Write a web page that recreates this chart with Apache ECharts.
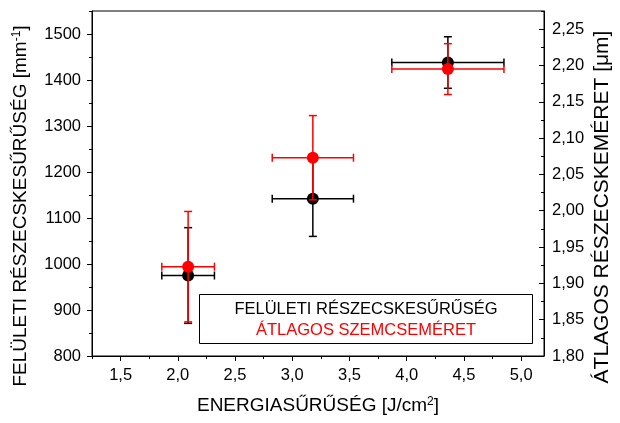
<!DOCTYPE html>
<html><head><meta charset="utf-8">
<script src="https://cdn.jsdelivr.net/npm/echarts@6/dist/echarts.min.js"></script>
<style>html,body{margin:0;padding:0;background:#fff}#c{width:620px;height:423px}</style>
</head><body><div id="c"></div>
<script>
// ---- data ----
const energy      = [2.09, 3.18, 4.36];      // J/cm^2
const energyErr   = [0.23, 0.355, 0.49];
const density     = [975, 1142, 1438];       // mm^-1 (left axis)
const densityErr  = [104, 82, 56];
const sizeUm      = [1.923, 2.073, 2.195];   // µm (right axis)
const sizeErr     = [0.076, 0.058, 0.035];

const xTicks      = [1.5, 2.0, 2.5, 3.0, 3.5, 4.0, 4.5, 5.0];
const xMinor      = [1.25, 1.75, 2.25, 2.75, 3.25, 3.75, 4.25, 4.75];
const yLeftTicks  = [800, 900, 1000, 1100, 1200, 1300, 1400, 1500];
const yLeftMinor  = [850, 950, 1050, 1150, 1250, 1350, 1450, 1550];
const yRightTicks = [1.80, 1.85, 1.90, 1.95, 2.00, 2.05, 2.10, 2.15, 2.20, 2.25];
const yRightMinor = [1.825, 1.875, 1.925, 1.975, 2.025, 2.075, 2.125, 2.175, 2.225, 2.275];

const FONT = 'Liberation Sans, Arial, sans-serif';
const BLACK = '#000000', RED = '#ff0000';

function errRender(color) {
  return function (params, api) {
    const x = api.value(0), y = api.value(1), ex = api.value(2), ey = api.value(3);
    const c = api.coord([x, y]);
    const l = api.coord([x - ex, y]), r = api.coord([x + ex, y]);
    const t = api.coord([x, y + ey]), b = api.coord([x, y - ey]);
    const cap = 4;
    const st = { stroke: color, lineWidth: 1.5 };
    return {
      type: 'group',
      children: [
        { type: 'line', shape: { x1: l[0], y1: c[1], x2: r[0], y2: c[1] }, style: st },
        { type: 'line', shape: { x1: l[0], y1: c[1] - cap, x2: l[0], y2: c[1] + cap }, style: st },
        { type: 'line', shape: { x1: r[0], y1: c[1] - cap, x2: r[0], y2: c[1] + cap }, style: st },
        { type: 'line', shape: { x1: c[0], y1: t[1], x2: c[0], y2: b[1] }, style: st },
        { type: 'line', shape: { x1: c[0] - cap, y1: t[1], x2: c[0] + cap, y2: t[1] }, style: st },
        { type: 'line', shape: { x1: c[0] - cap, y1: b[1], x2: c[0] + cap, y2: b[1] }, style: st },
        { type: 'circle', shape: { cx: c[0], cy: c[1], r: 6 }, style: { fill: color } }
      ]
    };
  };
}

const axisLineStyle = { show: true, lineStyle: { color: BLACK, width: 1 } };
const lbl = { color: BLACK, fontSize: 16.5, fontFamily: FONT };
const supRich = { sup: { fontSize: 12, fontFamily: FONT, color: BLACK, verticalAlign: 'top', padding: [0, 0, 8, 0] } };

const option = {
  backgroundColor: '#fff',
  animation: false,
  grid: { left: 92, right: 76, top: 11, bottom: 67, show: true, borderColor: BLACK, borderWidth: 1, backgroundColor: 'transparent' },
  xAxis: [
    {
      type: 'value', min: 1.25, max: 5.2, position: 'bottom',
      axisLine: axisLineStyle,
      axisTick: { show: true, inside: false, length: 5, customValues: xTicks, lineStyle: { color: BLACK } },
      axisLabel: Object.assign({ margin: 11, customValues: xTicks, formatter: v => v.toFixed(1).replace('.', ',') }, lbl),
      splitLine: { show: false },
      name: 'ENERGIASŰRŰSÉG [J/cm{sup|2}]', nameLocation: 'middle', nameGap: 40,
      nameTextStyle: { color: BLACK, fontSize: 19, fontFamily: FONT, rich: supRich }
    },
    {
      type: 'value', min: 1.25, max: 5.2, position: 'bottom',
      axisLine: { show: false },
      axisTick: { show: true, inside: false, length: 3, customValues: xMinor, lineStyle: { color: BLACK } },
      axisLabel: { show: false }, splitLine: { show: false }
    }
  ],
  yAxis: [
    {
      type: 'value', min: 800, max: 1550, position: 'left',
      axisLine: axisLineStyle,
      axisTick: { show: true, inside: false, length: 5, customValues: yLeftTicks, lineStyle: { color: BLACK } },
      axisLabel: Object.assign({ margin: 11, customValues: yLeftTicks, formatter: v => String(v) }, lbl),
      splitLine: { show: false }
    },
    {
      type: 'value', min: 1.8, max: 2.275, position: 'right',
      axisLine: axisLineStyle,
      axisTick: { show: true, inside: true, length: 5, customValues: yRightTicks, lineStyle: { color: BLACK } },
      axisLabel: Object.assign({ margin: 8, customValues: yRightTicks, formatter: v => v.toFixed(2).replace('.', ',') }, lbl),
      splitLine: { show: false }
    },
    {
      type: 'value', min: 800, max: 1550, position: 'left',
      axisLine: { show: false },
      axisTick: { show: true, inside: false, length: 3, customValues: yLeftMinor, lineStyle: { color: BLACK } },
      axisLabel: { show: false }, splitLine: { show: false }
    },
    {
      type: 'value', min: 1.8, max: 2.275, position: 'right',
      axisLine: { show: false },
      axisTick: { show: true, inside: true, length: 3, customValues: yRightMinor, lineStyle: { color: BLACK } },
      axisLabel: { show: false }, splitLine: { show: false }
    }
  ],
  series: [
    {
      name: 'FELÜLETI RÉSZECSKESŰRŰSÉG', type: 'custom', xAxisIndex: 0, yAxisIndex: 0,
      renderItem: errRender(BLACK), encode: { x: 0, y: 1 }, z: 3,
      data: energy.map((x, i) => [x, density[i], energyErr[i], densityErr[i]])
    },
    {
      name: 'ÁTLAGOS SZEMCSEMÉRET', type: 'custom', xAxisIndex: 0, yAxisIndex: 1,
      renderItem: errRender(RED), encode: { x: 0, y: 1 }, z: 4,
      data: energy.map((x, i) => [x, sizeUm[i], energyErr[i], sizeErr[i]])
    }
  ],
  graphic: [
    { type: 'rect', z: 10, shape: { x: 199.5, y: 294.5, width: 333, height: 49 }, style: { fill: '#fff', stroke: BLACK, lineWidth: 1 } },
    { type: 'text', z: 11, x: 366, y: 309, style: { text: 'FELÜLETI RÉSZECSKESŰRŰSÉG', fill: BLACK, font: '16.5px ' + FONT, textAlign: 'center', textVerticalAlign: 'middle' } },
    { type: 'text', z: 11, x: 366, y: 330, style: { text: 'ÁTLAGOS SZEMCSEMÉRET', fill: RED, font: '16.5px ' + FONT, textAlign: 'center', textVerticalAlign: 'middle' } },
    { type: 'text', z: 11, x: 21, y: 206, rotation: Math.PI / 2,
      style: { text: 'FELÜLETI RÉSZECSKESŰRŰSÉG [mm{sup|-1}]', fill: BLACK, fontSize: 19, fontFamily: FONT, rich: supRich, align: 'center', verticalAlign: 'middle' } },
    { type: 'text', z: 11, x: 602, y: 207, rotation: Math.PI / 2,
      style: { text: 'ÁTLAGOS RÉSZECSKEMÉRET [μm]', fill: BLACK, fontSize: 21, fontFamily: FONT, align: 'center', verticalAlign: 'middle' } }
  ]
};

const chart = echarts.init(document.getElementById('c'), null, { renderer: 'canvas' });
chart.setOption(option);
</script>
</body></html>
